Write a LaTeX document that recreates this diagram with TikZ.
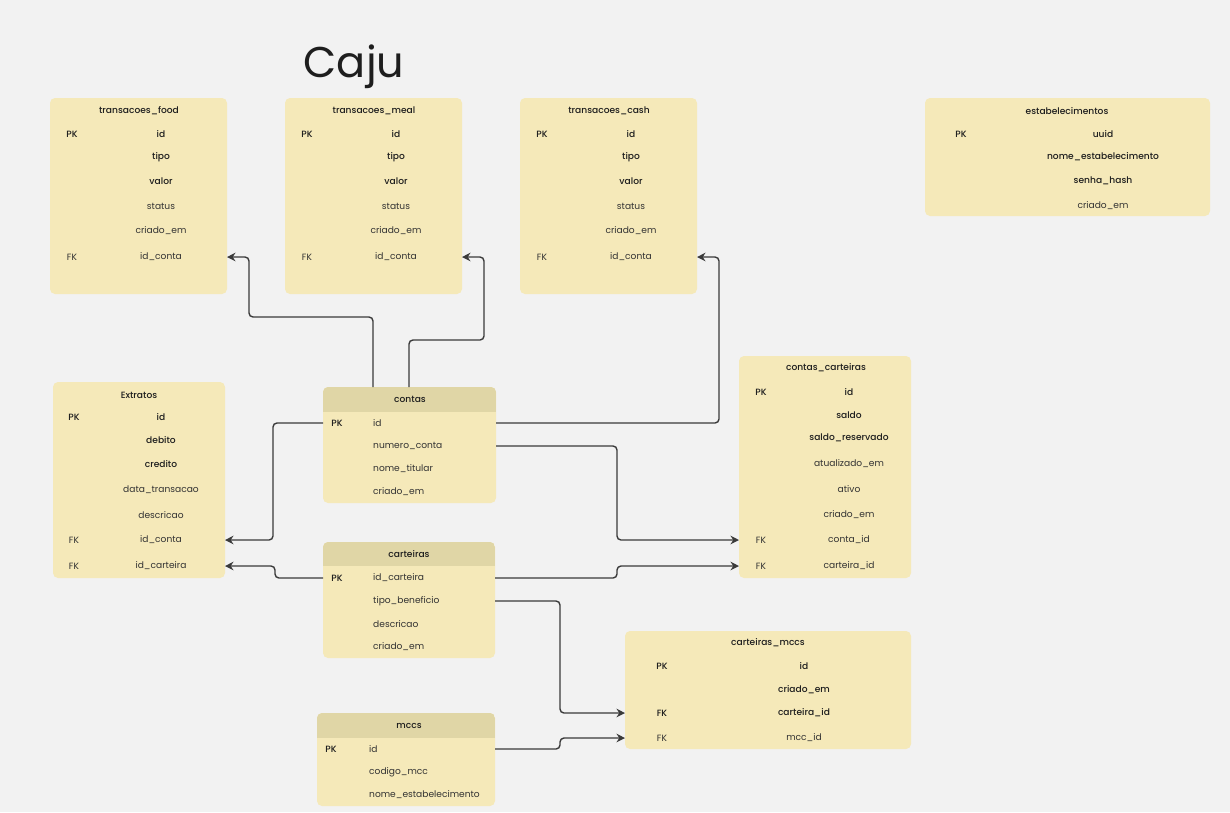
\documentclass[tikz,border=0pt]{standalone}
\usepackage{fontspec}
\setmainfont{Poppins}
\newfontfamily\medf{Poppins Medium}
\usetikzlibrary{arrows.meta,calc}
\definecolor{bg}{HTML}{F2F2F2}
\definecolor{tblfill}{HTML}{F5E9B9}
\definecolor{hdrfill}{HTML}{E0D6A6}
\definecolor{linec}{HTML}{3A3A3A}
\definecolor{txtd}{HTML}{1E1E1E}
\definecolor{txtl}{HTML}{333333}
\tikzset{
  tbl/.style={fill=tblfill, rounded corners=5pt, anchor=north west, inner sep=0pt, outer sep=0pt},
  ttl/.style={inner sep=0pt, font=\medf\fontsize{9.1}{11}\selectfont, text=txtd},
  fb/.style={inner sep=0pt, font=\medf\fontsize{9.1}{11}\selectfont, text=txtd},
  fn/.style={inner sep=0pt, font=\fontsize{9.1}{11}\selectfont, text=txtl},
  fbl/.style={fb, anchor=west},
  fnl/.style={fn, anchor=west},
  conn/.style={draw=linec, line width=1.4pt, rounded corners=4pt, -{Stealth[length=8.5pt,width=8.5pt]}},
}
\begin{document}
\begin{tikzpicture}[x=1pt,y=-1pt]
\fill[bg] (0,0) rectangle (1230,812);
\useasboundingbox (0,0) rectangle (1230,812);

\node[anchor=base, inner sep=0pt, text=txtd, font=\fontsize{43}{50}\selectfont] (title) at (354,77) {Caju};

% transacoes_food
\node[tbl, minimum width=177pt, minimum height=196pt] (food) at (50,98) {};
\node[ttl] (f0) at (139,111) {transacoes\_food};
\node[fb] (fpk) at (72,134) {PK};
\node[fb] (f1) at (161,134) {id};
\node[fb] (f2) at (161,157) {tipo};
\node[fb] (f3) at (161,181) {valor};
\node[fn] (f4) at (161,206) {status};
\node[fn] (f5) at (161,231) {criado\_em};
\node[fn] (ffk) at (72,257) {FK};
\node[fn] (f6) at (161,257) {id\_conta};

% transacoes_meal
\node[tbl, minimum width=177pt, minimum height=196pt] (meal) at (285,98) {};
\node[ttl] (m0) at (374,111) {transacoes\_meal};
\node[fb] (mpk) at (307,134) {PK};
\node[fb] (m1) at (396,134) {id};
\node[fb] (m2) at (396,157) {tipo};
\node[fb] (m3) at (396,181) {valor};
\node[fn] (m4) at (396,206) {status};
\node[fn] (m5) at (396,231) {criado\_em};
\node[fn] (mfk) at (307,257) {FK};
\node[fn] (m6) at (396,257) {id\_conta};

% transacoes_cash
\node[tbl, minimum width=177pt, minimum height=196pt] (cash) at (520,98) {};
\node[ttl] (k0) at (609,111) {transacoes\_cash};
\node[fb] (kpk) at (542,134) {PK};
\node[fb] (k1) at (631,134) {id};
\node[fb] (k2) at (631,157) {tipo};
\node[fb] (k3) at (631,181) {valor};
\node[fn] (k4) at (631,206) {status};
\node[fn] (k5) at (631,231) {criado\_em};
\node[fn] (kfk) at (542,257) {FK};
\node[fn] (k6) at (631,257) {id\_conta};

% estabelecimentos
\node[tbl, minimum width=285pt, minimum height=118pt] (estab) at (925,98) {};
\node[ttl] (s0) at (1067,111) {estabelecimentos};
\node[fb] (spk) at (961,134) {PK};
\node[fb] (s1) at (1103,134) {uuid};
\node[fb] (s2) at (1103,157) {nome\_estabelecimento};
\node[fb] (s3) at (1103,181) {senha\_hash};
\node[fn] (s4) at (1103,206) {criado\_em};

% Extratos
\node[tbl, minimum width=172pt, minimum height=196pt] (extr) at (53,382) {};
\node[ttl] (e0) at (139,395) {Extratos};
\node[fb] (epk) at (74,417) {PK};
\node[fb] (e1) at (161,417) {id};
\node[fb] (e2) at (161,440) {debito};
\node[fb] (e3) at (161,464) {credito};
\node[fn] (e4) at (161,490) {data\_transacao};
\node[fn] (e5) at (161,515) {descricao};
\node[fn] (efk1) at (74,540) {FK};
\node[fn] (e6) at (161,540) {id\_conta};
\node[fn] (efk2) at (74,566) {FK};
\node[fn] (e7) at (161,566) {id\_carteira};

% contas
\node[tbl, minimum width=173pt, minimum height=116pt] (contas) at (323,387) {};
\begin{scope}
\clip[rounded corners=5pt] (contas.south west) rectangle (contas.north east);
\fill[hdrfill] (contas.north west) rectangle ($(contas.north east)+(0,25)$);
\end{scope}
\node[ttl] (c0) at (410,399) {contas};
\node[fb] (cpk) at (337,423) {PK};
\node[fnl] (c1) at (373,423) {id};
\node[fnl] (c2) at (373,446) {numero\_conta};
\node[fnl] (c3) at (373,469) {nome\_titular};
\node[fnl] (c4) at (373,492) {criado\_em};

% carteiras
\node[tbl, minimum width=172pt, minimum height=116pt] (cart) at (323,542) {};
\begin{scope}
\clip[rounded corners=5pt] (cart.south west) rectangle (cart.north east);
\fill[hdrfill] (cart.north west) rectangle ($(cart.north east)+(0,24)$);
\end{scope}
\node[ttl] (r0) at (409,554) {carteiras};
\node[fb] (rpk) at (337,578) {PK};
\node[fnl] (r1) at (373,578) {id\_carteira};
\node[fnl] (r2) at (373,601) {tipo\_beneficio};
\node[fnl] (r3) at (373,624) {descricao};
\node[fnl] (r4) at (373,647) {criado\_em};

% mccs
\node[tbl, minimum width=178pt, minimum height=93pt] (mccs) at (317,713) {};
\begin{scope}
\clip[rounded corners=5pt] (mccs.south west) rectangle (mccs.north east);
\fill[hdrfill] (mccs.north west) rectangle ($(mccs.north east)+(0,25)$);
\end{scope}
\node[ttl] (q0) at (409,726) {mccs};
\node[fb] (qpk) at (331,749) {PK};
\node[fnl] (q1) at (369,749) {id};
\node[fnl] (q2) at (369,772) {codigo\_mcc};
\node[fnl] (q3) at (369,795) {nome\_estabelecimento};

% contas_carteiras
\node[tbl, minimum width=172pt, minimum height=222pt] (cc) at (739,356) {};
\node[ttl] (cc0) at (826,368) {contas\_carteiras};
\node[fb] (ccpk) at (761,392) {PK};
\node[fb] (cc1) at (849,392) {id};
\node[fb] (cc2) at (849,415) {saldo};
\node[fb] (cc3) at (849,438) {saldo\_reservado};
\node[fn] (cc4) at (849,464) {atualizado\_em};
\node[fn] (cc5) at (849,489) {ativo};
\node[fn] (cc6) at (849,515) {criado\_em};
\node[fn] (ccfk1) at (761,540) {FK};
\node[fn] (cc7) at (849,540) {conta\_id};
\node[fn] (ccfk2) at (761,566) {FK};
\node[fn] (cc8) at (849,566) {carteira\_id};

% carteiras_mccs
\node[tbl, minimum width=286pt, minimum height=118pt] (cm) at (625,631) {};
\node[ttl] (cm0) at (768,643) {carteiras\_mccs};
\node[fb] (cmpk) at (662,666) {PK};
\node[fb] (cm1) at (804,666) {id};
\node[fb] (cm2) at (804,690) {criado\_em};
\node[fb] (cmfk1) at (662,713) {FK};
\node[fb] (cm3) at (804,713) {carteira\_id};
\node[fn] (cmfk2) at (662,738) {FK};
\node[fn] (cm4) at (804,738) {mcc\_id};

% connectors
\draw[conn] ($(contas.north west)+(50,0)$) -- (373,317) -- (249,317) |- (food.east |- f6);
\draw[conn] ($(contas.north west)+(86,0)$) -- (409,340) -- (484,340) |- (meal.east |- m6);
\draw[conn] (contas.east |- c1) -- (719,423) |- (cash.east |- k6);
\draw[conn] (contas.west |- c1) -- (273,423) |- (extr.east |- e6);
\draw[conn] (cart.west |- r1) -- (275,578) |- (extr.east |- e7);
\draw[conn] (contas.east |- c2) -- (617,446) |- (cc.west |- cc7);
\draw[conn] (cart.east |- r1) -- (617,578) |- (cc.west |- cc8);
\draw[conn] (cart.east |- r2) -- (560,601) |- (cm.west |- cm3);
\draw[conn] (mccs.east |- q1) -- (560,749) |- (cm.west |- cm4);
\end{tikzpicture}
\end{document}
